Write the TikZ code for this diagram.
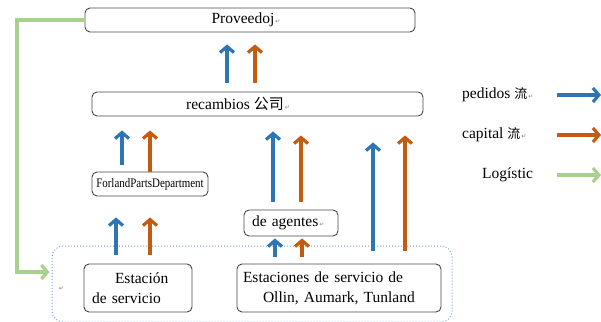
\documentclass[tikz,border=0pt]{standalone}
\usepackage{fontspec}
\usepackage{graphicx}
\setmainfont{Liberation Serif}
\newfontfamily\cjk{Noto Sans CJK SC}
\newfontfamily\symf{DejaVu Sans}
\usetikzlibrary{arrows.meta}
\definecolor{ablue}{RGB}{46,117,182}
\definecolor{aorange}{RGB}{197,90,17}
\definecolor{agreen}{RGB}{169,209,142}
\definecolor{contblue}{RGB}{120,165,215}
\definecolor{boxgray}{RGB}{70,70,70}
\newcommand{\pmark}{{\symf\fontsize{6}{6}\selectfont\color{gray}\,↵}}
\tikzset{
  box/.style={draw=boxgray, line width=0.9pt, rounded corners=5pt, inner sep=0pt,
    font=\fontsize{15.5}{20}\selectfont},
  cont/.style={draw=contblue, dotted, line width=1pt, rounded corners=11pt, inner sep=0pt},
  arr/.style={line width=3.2pt, -{Straight Barb[length=6pt,width=14pt]}},
  barrow/.style={arr, draw=ablue},
  oarrow/.style={arr, draw=aorange},
  garrow/.style={arr, draw=agreen},
  legtext/.style={anchor=west, inner sep=0pt, font=\fontsize{15.5}{18}\selectfont},
}
\begin{document}
\begin{tikzpicture}[x=1pt,y=-1pt]
\useasboundingbox (0,0) rectangle (601,321);
% container
\node[cont, minimum width=400pt, minimum height=76pt] (cont) at (252,284) {};
% boxes
\node[box, minimum width=330pt, minimum height=24pt] (prov) at (250,20) {};
\node[inner sep=0pt, font=\fontsize{15.5}{18}\selectfont] (provt) at (246,20) {Proveedoj\pmark};
\node[box, minimum width=331pt, minimum height=24pt] (recamb) at (257.5,104) {};
\node[inner sep=0pt, font=\fontsize{15.5}{18}\selectfont] (recambt) at (238,104) {recambios {\cjk\fontsize{15}{16}\selectfont 公司}\pmark};
\node[box, minimum width=116pt, minimum height=24pt, font=\fontsize{13}{15}\selectfont] (forland) at (150,184) {\scalebox{0.84}[1]{ForlandPartsDepartment}};
\node[box, minimum width=94pt, minimum height=26pt, text width=82pt, inner xsep=6pt, align=left] (agent) at (291,223) {\hspace*{2pt}de agentes\pmark};
\node[box, minimum height=48pt, text width=92pt, inner xsep=8pt, align=left] (est1) at (138,288) {\hspace*{23pt}Estación\\de servicio};
\node[box, minimum height=48pt, text width=192pt, inner xsep=6pt, align=left] (est2) at (339,288) {Estaciones de servicio de\\\hspace*{20pt}Ollin, Aumark, Tunland};
\node[inner sep=0pt] (contmark) at (61,289) {\pmark};
% arrows recamb -> prov
\draw[barrow, shorten <=9pt, shorten >=12pt] (recamb.north -| 227,0) -- (prov.south -| 227,0);
\draw[oarrow, shorten <=9pt, shorten >=12pt] (recamb.north -| 255,0) -- (prov.south -| 255,0);
% forland -> recamb
\draw[barrow, shorten <=7pt, shorten >=14pt] (forland.north -| 122,0) -- (recamb.south -| 122,0);
\draw[oarrow, shorten <=0pt, shorten >=14pt] (forland.north -| 150,0) -- (recamb.south -| 150,0);
% agent -> recamb
\draw[barrow, shorten <=8pt, shorten >=15pt] (agent.north -| 273,0) -- (recamb.south -| 273,0);
\draw[oarrow, shorten <=8pt, shorten >=19pt] (agent.north -| 301,0) -- (recamb.south -| 301,0);
% est1 -> forland
\draw[barrow, shorten <=9pt, shorten >=21pt] (est1.north -| 116,0) -- (forland.south -| 116,0);
\draw[oarrow, shorten <=9pt, shorten >=21pt] (est1.north -| 150,0) -- (forland.south -| 150,0);
% est2 -> agent
\draw[barrow, shorten <=7pt, shorten >=2pt] (est2.north -| 275,0) -- (agent.south -| 275,0);
\draw[oarrow, shorten <=7pt, shorten >=2pt] (est2.north -| 302,0) -- (agent.south -| 302,0);
% est2 -> recamb
\draw[barrow, shorten <=13pt, shorten >=26pt] (est2.north -| 373,0) -- (recamb.south -| 373,0);
\draw[oarrow, shorten <=13pt, shorten >=19pt] (est2.north -| 405,0) -- (recamb.south -| 405,0);
% green logistics line
\draw[garrow, line join=miter, shorten >=2pt] (prov.west) -- (17,20) |- ([yshift=12pt]cont.west);
% legend
\node[legtext] (lped) at (462,95) {pedidos {\cjk\fontsize{13}{15}\selectfont 流}\pmark};
\node[legtext] (lcap) at (462,135) {capital {\cjk\fontsize{13}{15}\selectfont 流}\pmark};
\node[legtext] (llog) at (482,175) {Logístic};
\coordinate (lb1) at (557,95); \coordinate (lb2) at (601,95);
\coordinate (lo1) at (557,135); \coordinate (lo2) at (601,135);
\coordinate (lg1) at (557,175); \coordinate (lg2) at (601,175);
\draw[barrow] (lb1) -- (lb2);
\draw[oarrow] (lo1) -- (lo2);
\draw[garrow] (lg1) -- (lg2);
\end{tikzpicture}
\end{document}
